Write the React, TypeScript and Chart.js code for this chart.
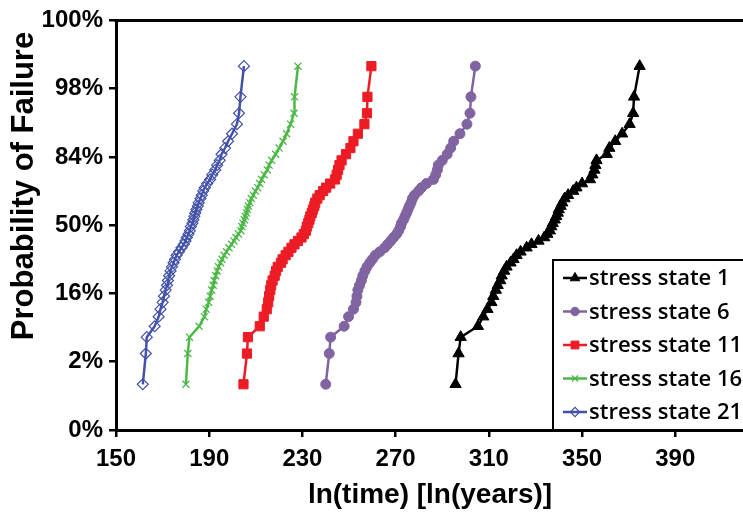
import React, { useEffect, useRef } from "react";
import { Chart, registerables } from "chart.js";
import { drawPoint } from "chart.js/helpers";

Chart.register(...registerables);

// ---------- data ----------
const yTickLabels = ["0%", "2%", "16%", "50%", "84%", "98%", "100%"];
const xTickValues = [150, 190, 230, 270, 310, 350, 390];

// plotting positions of the 50 ranked failures on the probability axis (axis units, 3 = 50%)
const rankPositions = [
  0.67, 1.12, 1.36, 1.52, 1.66, 1.77, 1.87, 1.96, 2.05, 2.12,
  2.19, 2.26, 2.33, 2.39, 2.45, 2.5, 2.56, 2.61, 2.67, 2.72,
  2.77, 2.82, 2.87, 2.92, 2.98, 3.03, 3.08, 3.13, 3.18, 3.23,
  3.28, 3.33, 3.39, 3.44, 3.5, 3.55, 3.61, 3.67, 3.74, 3.81,
  3.88, 3.95, 4.04, 4.13, 4.23, 4.34, 4.48, 4.64, 4.88, 5.33,
];

const stressState1 = [
  295.7, 297.0, 297.9, 305.3, 307.6, 309.4, 311.1, 311.9, 313.0, 313.8,
  314.9, 315.5, 316.6, 317.6, 319.3, 320.6, 321.9, 323.6, 326.2, 328.3,
  331.3, 333.8, 335.1, 336.2, 336.8, 337.4, 338.3, 338.9, 339.6, 340.0,
  340.8, 341.5, 342.5, 344.0, 346.2, 347.6, 350.0, 353.4, 354.4, 355.3,
  355.7, 356.2, 360.6, 361.7, 364.2, 367.2, 370.4, 371.9, 372.3, 374.7,
];
const stressState6 = [
  240.0, 241.5, 242.1, 247.9, 249.8, 251.9, 253.0, 253.4, 253.8, 254.5,
  255.3, 255.9, 256.8, 257.7, 258.9, 260.0, 261.3, 263.2, 265.3, 266.6,
  267.9, 269.1, 270.4, 271.3, 272.1, 272.5, 273.4, 274.0, 274.7, 275.3,
  275.9, 276.6, 277.2, 278.1, 279.8, 281.1, 283.2, 286.2, 287.2, 287.9,
  288.3, 290.0, 292.1, 293.6, 294.9, 297.6, 300.6, 301.9, 302.3, 304.2,
];
const stressState11 = [
  204.7, 206.2, 206.6, 211.7, 213.4, 214.7, 215.3, 215.7, 216.2, 216.6,
  217.2, 218.1, 218.7, 219.4, 220.8, 221.5, 222.8, 224.0, 225.3, 226.6,
  228.1, 229.6, 230.6, 231.5, 231.9, 232.5, 233.0, 233.4, 234.0, 234.5,
  235.1, 235.5, 236.4, 237.4, 238.9, 240.2, 241.9, 244.0, 244.7, 245.3,
  245.9, 246.8, 248.7, 250.6, 251.9, 253.8, 256.6, 257.7, 257.9, 259.6,
];
const stressState16 = [
  180.0, 180.8, 181.5, 185.7, 187.9, 188.7, 189.8, 190.4, 191.1, 191.7,
  192.1, 192.8, 193.4, 194.0, 194.9, 195.5, 196.4, 197.4, 198.5, 199.6,
  200.6, 201.5, 202.5, 203.6, 204.0, 204.5, 205.1, 205.5, 206.0, 206.4,
  206.8, 207.4, 208.1, 208.9, 209.8, 210.8, 211.7, 212.5, 213.6, 214.9,
  215.7, 216.8, 218.5, 220.0, 221.7, 223.2, 224.9, 226.4, 226.6, 228.1,
];
const stressState21 = [
  161.5, 162.8, 163.2, 166.6, 168.3, 169.1, 170.0, 170.6, 171.3, 171.9,
  172.3, 172.8, 173.4, 174.0, 174.7, 175.3, 176.0, 177.0, 178.1, 179.1,
  179.8, 180.4, 181.1, 181.7, 182.1, 182.8, 183.2, 183.6, 184.0, 184.5,
  185.1, 185.5, 186.2, 186.8, 187.4, 188.1, 189.1, 190.4, 191.3, 192.6,
  193.4, 194.5, 195.3, 196.8, 198.1, 199.8, 201.9, 202.8, 203.4, 204.9,
];

const seriesNames = ["stress state 1", "stress state 6", "stress state 11", "stress state 16", "stress state 21"];
const seriesValues = [stressState1, stressState6, stressState11, stressState16, stressState21];

// ---------- styles ----------
const FONT = "'Liberation Sans', Arial, sans-serif";
const seriesStyles = [
  { color: "#000000", pointStyle: "triangle", radius: 6.5, fill: "#000000", borderWidth: 1 },
  { color: "#8064A2", pointStyle: "circle", radius: 5, fill: "#8064A2", borderWidth: 1 },
  { color: "#ED1C24", pointStyle: "rect", radius: 6.5, fill: "#ED1C24", borderWidth: 1 },
  { color: "#4DB848", pointStyle: "crossRot", radius: 5, fill: "#4DB848", borderWidth: 1.3 },
  { color: "#4252A8", pointStyle: "rectRot", radius: 5.5, fill: "rgba(255,255,255,0)", borderWidth: 1.2 },
];

const framePlugin = {
  id: "frameTitlesLegend",
  afterDraw(chart: any) {
    const { ctx, chartArea } = chart;
    ctx.save();
    // top frame line
    ctx.strokeStyle = "#000";
    ctx.lineWidth = 3;
    ctx.beginPath();
    ctx.moveTo(chartArea.left - 1.5, chartArea.top);
    ctx.lineTo(chartArea.right, chartArea.top);
    ctx.stroke();

    // axis titles
    ctx.fillStyle = "#000";
    ctx.font = `bold 28px ${FONT}`;
    ctx.textAlign = "center";
    ctx.textBaseline = "middle";
    ctx.fillText("ln(time) [ln(years)]", 430, 495);
    ctx.save();
    ctx.translate(24, 186);
    ctx.rotate(-Math.PI / 2);
    ctx.font = `bold 31px ${FONT}`;
    ctx.fillText("Probability of Failure", 0, 0);
    ctx.restore();

    // legend box
    const bx = 553, by = 260, bw = 230, bh = chartArea.bottom - 260;
    ctx.fillStyle = "#fff";
    ctx.fillRect(bx, by, bw, bh);
    ctx.strokeStyle = "#000";
    ctx.lineWidth = 2;
    ctx.strokeRect(bx, by, bw, bh);

    ctx.font = `600 22px 'Open Sans', sans-serif`;
    ctx.textAlign = "left";
    ctx.textBaseline = "middle";
    chart.data.datasets.forEach((ds: any, i: number) => {
      const st = seriesStyles[i];
      const y = 278 + i * 33.5;
      ctx.strokeStyle = st.color;
      ctx.lineWidth = 2.5;
      ctx.beginPath();
      ctx.moveTo(563, y);
      ctx.lineTo(587, y);
      ctx.stroke();
      ctx.fillStyle = st.fill;
      ctx.strokeStyle = st.color;
      ctx.lineWidth = st.borderWidth;
      drawPoint(ctx, { pointStyle: st.pointStyle, rotation: 0, radius: st.radius * 0.85, borderWidth: st.borderWidth }, 575, y);
      ctx.fillStyle = "#000";
      ctx.fillText(ds.label, 589, y + 1);
    });
    ctx.restore();
  },
};

export default function App() {
  const canvasRef = useRef<HTMLCanvasElement | null>(null);

  useEffect(() => {
    document.body.style.margin = "0";
    const canvas = canvasRef.current;
    if (!canvas) return;
    const datasets = seriesNames.map((name, i) => {
      const st = seriesStyles[i];
      return {
        label: name,
        data: seriesValues[i].map((x, k) => ({ x, y: rankPositions[k] })),
        borderColor: st.color,
        backgroundColor: st.fill,
        borderWidth: 2.5,
        pointStyle: st.pointStyle,
        pointRadius: st.radius,
        pointBorderWidth: st.borderWidth,
        pointBorderColor: st.color,
        pointBackgroundColor: st.fill,
        showLine: true,
        tension: 0,
      };
    });
    const tickFont = { family: FONT, size: 24, weight: "bold" as const };
    const chart = new Chart(canvas, {
      type: "scatter",
      data: { datasets },
      options: {
        responsive: false,
        animation: false,
        devicePixelRatio: 1,
        layout: { padding: { top: 17, right: 0, bottom: 0, left: 0 } },
        plugins: { legend: { display: false }, tooltip: { enabled: false } },
        scales: {
          x: {
            type: "linear",
            min: 150,
            max: 430,
            afterBuildTicks: (s: any) => {
              s.ticks = xTickValues.map((v) => ({ value: v }));
            },
            afterFit: (s: any) => {
              s.height = 88;
            },
            ticks: { font: tickFont, color: "#000", padding: 8, maxRotation: 0 },
            grid: { drawOnChartArea: false, drawTicks: true, tickLength: 7, color: "#000", lineWidth: 2.5 },
            border: { color: "#000", width: 3 },
          },
          y: {
            type: "linear",
            min: 0,
            max: 6,
            afterBuildTicks: (s: any) => {
              s.ticks = yTickLabels.map((_, i) => ({ value: i }));
            },
            afterFit: (s: any) => {
              s.width = 116;
            },
            ticks: {
              font: tickFont,
              color: "#000",
              padding: 6,
              callback: (v: any) => yTickLabels[Math.round(Number(v))],
            },
            grid: { drawOnChartArea: false, drawTicks: true, tickLength: 7, color: "#000", lineWidth: 2.5 },
            border: { color: "#000", width: 3 },
          },
        },
      },
      plugins: [framePlugin],
    });
    return () => chart.destroy();
  }, []);

  return (
    <div style={{ position: "absolute", left: 0, top: 0, width: 743, height: 518, overflow: "hidden", background: "#fff" }}>
      <canvas ref={canvasRef} width={776} height={518} style={{ width: 776, height: 518, display: "block" }} />
    </div>
  );
}
